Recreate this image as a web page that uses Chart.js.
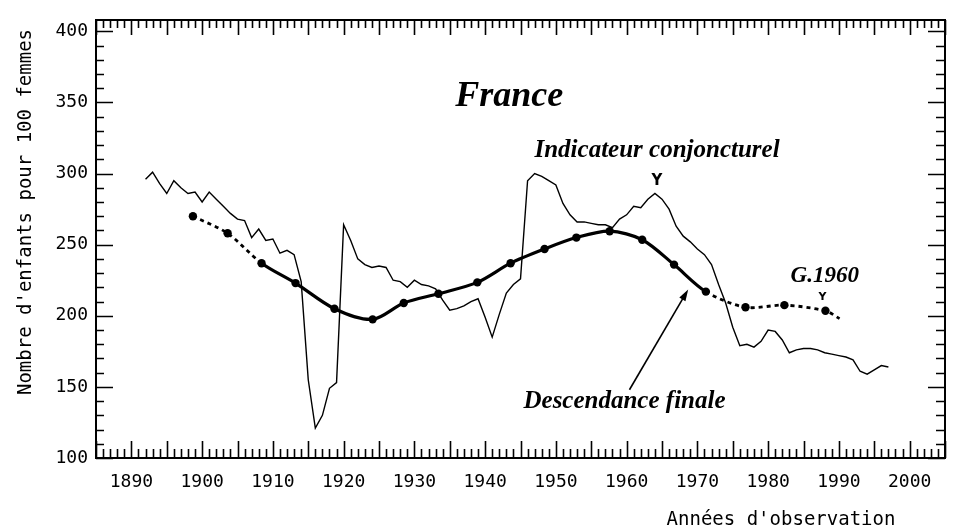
<!DOCTYPE html>
<html lang="fr">
<head>
  <meta charset="UTF-8" />
  <title>France | Indicateur conjoncturel et descendance finale</title>
  <script src="https://cdn.jsdelivr.net/npm/chart.js"></script>
  <style>
    html, body { margin: 0; padding: 0; background: #fff; }
  </style>
</head>
<body>
  <canvas id="fecondite" width="962" height="530"></canvas>

  <script>
    // Indicateur conjoncturel de fécondité (enfants pour 100 femmes), par année d'observation
    const icfYears = [];
    for (let a = 1892; a <= 1997; a++) icfYears.push(a);
    const icfValues = [
      296, 301, 293, 286, 295, 290, 286, 287, 280, 287,   // 1892-1901
      282, 277, 272, 268, 267, 255, 261, 253, 254, 244,   // 1902-1911
      246, 243, 224, 155, 121, 130, 149, 153, 264, 253,   // 1912-1921
      240, 236, 234, 235, 234, 225, 224, 220, 225, 222,   // 1922-1931
      221, 219, 211, 204, 205, 207, 210, 212, 199, 185,   // 1932-1941
      201, 216, 222, 226, 295, 300, 298, 295, 292, 279,   // 1942-1951
      271, 266, 266, 265, 264, 264, 262, 268, 271, 277,   // 1952-1961
      276, 282, 286, 282, 275, 263, 256, 252, 247, 243,   // 1962-1971
      236, 222, 209, 192, 179, 180, 178, 182, 190, 189,   // 1972-1981
      183, 174, 176, 177, 177, 176, 174, 173, 172, 171,   // 1982-1991
      169, 161, 159, 162, 165, 164                        // 1992-1997
    ];

    // Descendance finale des générations 1870 à 1960 (tous les 5 ans),
    // placée à l'année d'observation où la génération atteint l'âge moyen à la maternité
    const generations = [1870, 1875, 1880, 1885, 1890, 1895, 1900, 1905, 1910, 1915,
                         1920, 1925, 1930, 1935, 1940, 1945, 1950, 1955, 1960];
    const descYears  = [1898.7, 1903.6, 1908.4, 1913.2, 1918.7, 1924.1, 1928.5, 1933.4, 1938.9, 1943.6,
                        1948.4, 1952.9, 1957.6, 1962.2, 1966.7, 1971.2, 1976.8, 1982.3, 1988.1,
                        1990.1];   // dernier point : prolongement estimé, sans marque
    const descValues = [270, 258, 237, 223, 205, 197.5, 209, 215.5, 223.5, 237,
                        247, 255, 259.5, 253.5, 236, 217, 206, 207.5, 203.5,
                        198];

    // graduations
    const xTicks = [1890, 1900, 1910, 1920, 1930, 1940, 1950, 1960, 1970, 1980, 1990, 2000];
    const yTicks = [100, 150, 200, 250, 300, 350, 400];

    const monoFont = '"DejaVu Sans Mono", "Liberation Mono", monospace';
    const serifFont = '"Liberation Serif", "Times New Roman", serif';

    // segments en pointillés : début (générations anciennes) et fin (estimations)
    const lastDesc = descYears.length - 1;
    function isDotted(i) {
      return i <= 1 || i >= 15;
    }

    // cadre avec graduations intérieures sur les quatre côtés
    const cadre = {
      id: 'cadre',
      afterDatasetsDraw(chart) {
        const { ctx, chartArea: a, scales: { x, y } } = chart;
        ctx.save();
        ctx.strokeStyle = '#000';
        ctx.lineWidth = 2;
        ctx.strokeRect(a.left, a.top, a.right - a.left, a.bottom - a.top);

        ctx.lineWidth = 1.6;
        ctx.beginPath();
        for (let yr = 1885; yr <= 2005; yr++) {
          const px = Math.round(x.getPixelForValue(yr)) + 0.5;
          const big = yr % 5 === 0;
          ctx.moveTo(px, a.bottom);
          ctx.lineTo(px, a.bottom - (big ? 17 : 9));
          ctx.moveTo(px, a.top);
          ctx.lineTo(px, a.top + (big ? 15 : 8));
        }
        for (let v = 100; v <= 400; v += 10) {
          const py = Math.round(y.getPixelForValue(v)) + 0.5;
          const big = v % 50 === 0;
          ctx.moveTo(a.left, py);
          ctx.lineTo(a.left + (big ? 17 : 8), py);
          ctx.moveTo(a.right, py);
          ctx.lineTo(a.right - (big ? 17 : 9), py);
        }
        ctx.stroke();
        ctx.restore();
      }
    };

    // étiquettes, flèche et titres des axes
    const notes = {
      id: 'notes',
      afterDraw(chart) {
        const { ctx, scales: { x, y } } = chart;
        const X = v => x.getPixelForValue(v);
        const Y = v => y.getPixelForValue(v);
        ctx.save();
        ctx.fillStyle = '#000';
        ctx.strokeStyle = '#000';
        ctx.textAlign = 'center';
        ctx.textBaseline = 'alphabetic';

        ctx.font = 'italic bold 36px ' + serifFont;
        ctx.fillText('France', X(1943.4), Y(347.5));

        ctx.font = 'italic bold 25px ' + serifFont;
        ctx.fillText('Indicateur conjoncturel', X(1964.3), Y(312));
        ctx.fillText('Descendance finale', X(1959.7), Y(135.5));

        ctx.font = 'italic bold 23px ' + serifFont;
        ctx.fillText('G.1960', X(1988.0), Y(223.5));

        // petits repères en Y
        ctx.font = 'bold 15px "DejaVu Sans", sans-serif';
        ctx.fillText('Y', X(1964.3), Y(292));
        ctx.font = 'bold 11px "DejaVu Sans", sans-serif';
        ctx.fillText('Y', X(1987.7), Y(211));

        // flèche vers la courbe de descendance finale
        const x0 = X(1960.4), y0 = Y(148), x1 = X(1968.7), y1 = Y(218.5);
        const ang = Math.atan2(y1 - y0, x1 - x0);
        ctx.lineWidth = 1.6;
        ctx.beginPath();
        ctx.moveTo(x0, y0);
        ctx.lineTo(x1 - 4 * Math.cos(ang), y1 - 4 * Math.sin(ang));
        ctx.stroke();
        ctx.beginPath();
        ctx.moveTo(x1, y1);
        ctx.lineTo(x1 - 12 * Math.cos(ang - 0.3), y1 - 12 * Math.sin(ang - 0.3));
        ctx.lineTo(x1 - 12 * Math.cos(ang + 0.3), y1 - 12 * Math.sin(ang + 0.3));
        ctx.closePath();
        ctx.fill();

        // titres des axes
        ctx.font = '19px ' + monoFont;
        ctx.fillText("Années d'observation", 781, 525);
        ctx.translate(31, 212);
        ctx.rotate(-Math.PI / 2);
        ctx.fillText("Nombre d'enfants pour 100 femmes", 0, 0);
        ctx.restore();
      }
    };

    const ctx = document.getElementById('fecondite').getContext('2d');

    new Chart(ctx, {
      type: 'line',
      data: {
        datasets: [
          {
            label: 'Indicateur conjoncturel',
            data: icfYears.map((a, i) => ({ x: a, y: icfValues[i] })),
            borderColor: '#000',
            borderWidth: 1.4,
            pointRadius: 0,
            tension: 0
          },
          {
            label: 'Descendance finale',
            data: descYears.map((a, i) => ({ x: a, y: descValues[i] })),
            borderColor: '#000',
            borderWidth: 3.2,
            pointRadius: c => (c.dataIndex === lastDesc ? 0 : 4.2),
            pointBackgroundColor: '#000',
            pointBorderColor: '#000',
            pointBorderWidth: 0,
            tension: 0.3,
            segment: {
              borderDash: s => (isDotted(s.p0DataIndex) ? [4, 4] : undefined),
              borderWidth: s => (isDotted(s.p0DataIndex) ? 2.8 : undefined)
            }
          }
        ]
      },
      options: {
        responsive: false,
        animation: false,
        events: [],
        layout: { padding: { left: 0, right: 17, top: 20, bottom: 0 } },
        plugins: {
          legend: { display: false },
          tooltip: { enabled: false }
        },
        scales: {
          x: {
            type: 'linear',
            min: 1885,
            max: 2005,
            afterBuildTicks: s => { s.ticks = xTicks.map(v => ({ value: v })); },
            afterFit: s => { s.height = 72; },
            grid: { display: false, drawTicks: false },
            border: { display: false },
            ticks: {
              color: '#000',
              font: { family: monoFont, size: 18 },
              padding: 14,
              maxRotation: 0,
              autoSkip: false,
              callback: v => String(v)
            }
          },
          y: {
            type: 'linear',
            min: 100,
            max: 408,
            afterBuildTicks: s => { s.ticks = yTicks.map(v => ({ value: v })); },
            afterFit: s => { s.width = 96; },
            grid: { display: false, drawTicks: false },
            border: { display: false },
            ticks: {
              color: '#000',
              font: { family: monoFont, size: 18 },
              padding: 8,
              callback: v => String(v)
            }
          }
        }
      },
      plugins: [cadre, notes]
    });
  </script>
</body>
</html>
